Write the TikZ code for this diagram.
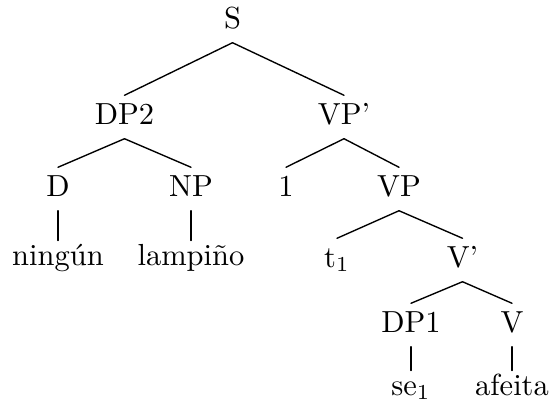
\documentclass[tikz,border=0pt]{standalone}
\usepackage{tikz}
\tikzstyle{every path}=[line width=0.45pt,line cap=round,line join=round]
\tikzstyle{cat}=[inner sep=0pt,anchor=base,text height=9.2pt,text depth=4.6pt]
\tikzstyle{leaf}=[inner sep=0pt,anchor=base,text height=7.8pt,text depth=4.6pt]
\begin{document}
\begin{tikzpicture}[x=0.328pt,y=-0.328pt]
		\useasboundingbox (0,0) rectangle (549,407);
		
		\node[cat] at (232.5,28) (S) {S};
		\node[cat] at (124.5,124) (DP2) {DP2};
		\node[cat] at (344,124) (VPb) {VP'};
		\node[cat] at (58,196) (D) {D};
		\node[cat] at (191,196) (NP) {NP};
		\node[cat] at (286,196) (one) {1};
		\node[cat] at (399,196) (VP) {VP};
		\node[leaf] at (58,265) (ningun) {ningún};
		\node[leaf] at (191,265) (lampino) {lampiño};
		\node[cat] at (337,267) (t) {t$_1$};
		\node[cat] at (462.5,267) (Vb) {V'};
		\node[cat] at (411,332) (DP1) {DP1};
		\node[cat] at (512,332) (V) {V};
		\node[leaf] at (411,395) (se) {se$_1$};
		\node[leaf] at (512,395) (afeita) {afeita};
		
		\draw (S.south) -- (DP2.north);
		\draw (S.south) -- (VPb.north);
		\draw (DP2.south) -- (D.north);
		\draw (DP2.south) -- (NP.north);
		\draw (D.south) -- (ningun.north);
		\draw (NP.south) -- (lampino.north);
		\draw (VPb.south) -- (one.north);
		\draw (VPb.south) -- (VP.north);
		\draw (VP.south) -- (t.north);
		\draw (VP.south) -- (Vb.north);
		\draw (Vb.south) -- (DP1.north);
		\draw (Vb.south) -- (V.north);
		\draw (DP1.south) -- (se.north);
		\draw (V.south) -- (afeita.north);
		
	\end{tikzpicture}
\end{document}
